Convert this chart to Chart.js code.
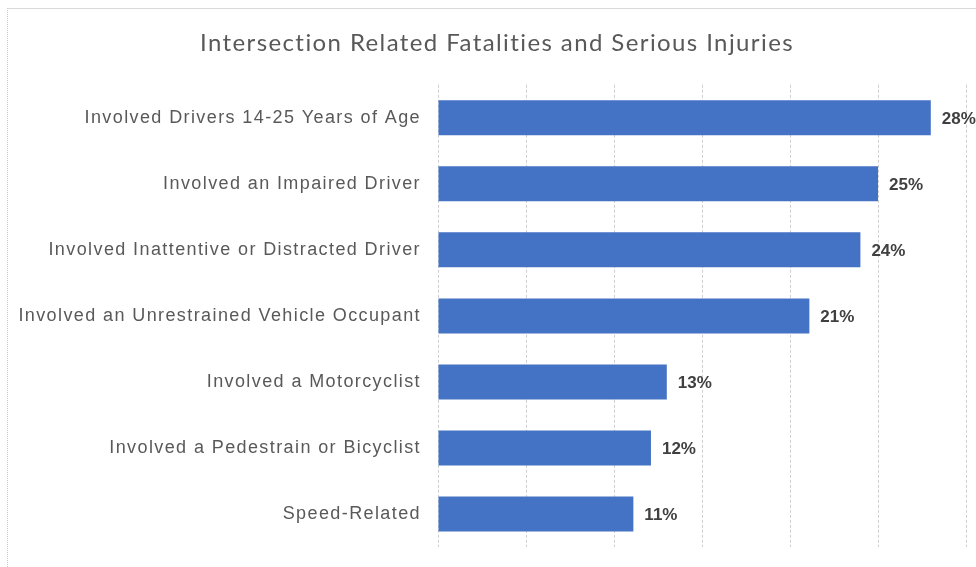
<!DOCTYPE html>
<html lang="en">
<head>
    <meta charset="UTF-8">
    <title>Intersection Related Fatalities and Serious Injuries</title>
    <script src="https://cdn.jsdelivr.net/npm/chart.js"></script>
    <style>
        html, body {
            margin: 0;
            padding: 0;
            background: #fff;
            overflow: hidden;
        }
        .frame {
            position: absolute;
            left: 7px;
            top: 8px;
            width: 980px;
            height: 570px;
            border-top: 1px solid #d9d9d9;
            border-left: 1px dotted #c6c6c6;
        }
        canvas { display: block; }
    </style>
</head>
<body>
    <div class="frame">
        <canvas id="chart" width="980" height="570"></canvas>
    </div>

    <script>
        const categories = [
            "Involved Drivers 14-25 Years of Age",
            "Involved an Impaired Driver",
            "Involved Inattentive or Distracted Driver",
            "Involved an Unrestrained Vehicle Occupant",
            "Involved a Motorcyclist",
            "Involved a Pedestrain or Bicyclist",
            "Speed-Related"
        ];
        const shares = [28, 25, 24, 21.1, 13, 12.1, 11.1];
        const shareLabels = ["28%", "25%", "24%", "21%", "13%", "12%", "11%"];

        // value labels at the end of each bar
        const barLabels = {
            id: "barLabels",
            afterDatasetsDraw(chart) {
                const ctx = chart.ctx;
                const meta = chart.getDatasetMeta(0);
                ctx.save();
                ctx.letterSpacing = "0px";
                ctx.font = "bold 17px 'Liberation Sans', Arial, sans-serif";
                ctx.fillStyle = "#404040";
                ctx.textAlign = "left";
                ctx.textBaseline = "middle";
                meta.data.forEach((bar, i) => {
                    ctx.fillText(shareLabels[i], bar.x + 11, bar.y + 1);
                });
                ctx.restore();
            }
        };

        // Excel-like spaced lettering for the title and axis labels
        const spacing = {
            id: "spacing",
            beforeDraw(chart) { chart.ctx.letterSpacing = "1.4px"; },
            afterDraw(chart) { chart.ctx.letterSpacing = "0px"; }
        };

        // the title is centred on the whole frame, not on the area left of the padding
        const titleShift = {
            id: "titleShift",
            afterLayout(chart) {
                if (chart.titleBlock) chart.titleBlock.left = 20;
            }
        };

        new Chart(document.getElementById("chart"), {
            type: "bar",
            data: {
                labels: categories,
                datasets: [{
                    data: shares,
                    backgroundColor: "#4472C4",
                    borderWidth: 0,
                    categoryPercentage: 1,
                    barPercentage: 0.53
                }]
            },
            options: {
                indexAxis: "y",
                responsive: false,
                animation: false,
                layout: { padding: { left: 0, right: 22, top: 0, bottom: 32 } },
                plugins: {
                    legend: { display: false },
                    tooltip: { enabled: false },
                    title: {
                        display: true,
                        text: "Intersection Related Fatalities and Serious Injuries",
                        color: "#595959",
                        font: { family: "Lato, 'Open Sans', sans-serif", size: 24, weight: "normal", lineHeight: 1.2 },
                        padding: { top: 20, bottom: 27 }
                    }
                },
                scales: {
                    x: {
                        min: 0,
                        max: 30,
                        ticks: { display: false, stepSize: 5 },
                        grid: { color: "#cfcfcf", drawTicks: false },
                        border: { display: false, dash: [3, 2] },
                        afterFit(scale) { scale.height = 0; }
                    },
                    y: {
                        grid: { display: false, drawTicks: false },
                        border: { display: false },
                        ticks: {
                            color: "#595959",
                            padding: 17,
                            font: { family: "'Liberation Sans', Arial, sans-serif", size: 18 }
                        },
                        afterFit(scale) { scale.width = 430; }
                    }
                }
            },
            plugins: [spacing, titleShift, barLabels]
        });
    </script>
</body>
</html>
